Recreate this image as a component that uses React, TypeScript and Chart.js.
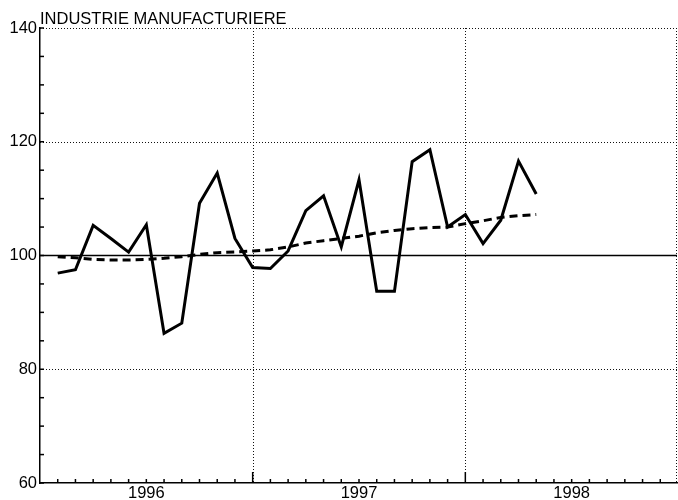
import React, { useEffect, useRef } from 'react';
import { Chart, registerables } from 'chart.js';

Chart.register(...registerables);

const chartTitle = 'INDUSTRIE MANUFACTURIERE';

const periods = [
  '1996-01', '1996-02', '1996-03', '1996-04', '1996-05', '1996-06',
  '1996-07', '1996-08', '1996-09', '1996-10', '1996-11', '1996-12',
  '1997-01', '1997-02', '1997-03', '1997-04', '1997-05', '1997-06',
  '1997-07', '1997-08', '1997-09', '1997-10', '1997-11', '1997-12',
  '1998-01', '1998-02', '1998-03', '1998-04',
];

const production = [
  96.9, 97.5, 105.3, 103.0, 100.6, 105.4, 86.3, 88.1, 109.2, 114.5, 103.0, 97.9,
  97.7, 100.8, 107.9, 110.5, 101.5, 113.3, 93.7, 93.7, 116.5, 118.6, 105.0, 107.2,
  102.1, 106.2, 116.6, 110.8,
];

const trend = [
  99.8, 99.6, 99.3, 99.2, 99.2, 99.3, 99.5, 99.8, 100.2, 100.5, 100.6, 100.8,
  101.0, 101.5, 102.2, 102.6, 103.0, 103.4, 104.0, 104.4, 104.7, 104.9, 105.0, 105.6,
  106.1, 106.7, 107.0, 107.2,
];

const yearLabels = ['1996', '1997', '1998'];
const yMin = 60;
const yMax = 140;
const yStep = 20;
const yMinorStep = 5;
const dottedLevels = [80, 120, 140];
const solidLevel = 100;

const FONT = "'Liberation Sans', Arial, sans-serif";
const FIRST_YEAR = 1996;

function monthEnd(p: string): number {
  const [yy, mm] = p.split('-').map(Number);
  return (yy - FIRST_YEAR) * 12 + mm;
}

const decorPlugin = {
  id: 'decor',
  beforeDatasetsDraw(chart: any) {
    const { ctx, chartArea: a, scales, width } = chart;
    const x = scales.x;
    const y = scales.y;
    const seg = (x1: number, y1: number, x2: number, y2: number) => {
      ctx.beginPath();
      ctx.moveTo(x1, y1);
      ctx.lineTo(x2, y2);
      ctx.stroke();
    };
    const rightEdge = Math.min(a.right, width - 1);
    ctx.save();
    ctx.strokeStyle = '#111';
    ctx.lineWidth = 1;
    ctx.setLineDash([1, 2]);
    for (const v of dottedLevels) {
      const py = Math.round(y.getPixelForValue(v)) + 0.5;
      seg(a.left, py, rightEdge, py);
    }
    const totalMonths = yearLabels.length * 12;
    for (let m = 12; m <= totalMonths; m += 12) {
      const px = Math.min(Math.round(x.getPixelForValue(m)) + 0.5, width - 1.5);
      seg(px, a.top, px, a.bottom);
    }
    ctx.setLineDash([]);
    ctx.strokeStyle = '#000';
    ctx.lineWidth = 1.5;
    const p100 = y.getPixelForValue(solidLevel);
    seg(a.left, p100, rightEdge, p100);
    for (let v = yMin; v <= yMax; v += yMinorStep) {
      const py = y.getPixelForValue(v);
      seg(a.left, py, a.left + 4, py);
    }
    for (let m = 1; m < totalMonths; m++) {
      const px = x.getPixelForValue(m);
      const len = m % 12 === 0 ? 11 : 4;
      seg(px, a.bottom, px, a.bottom - len);
    }
    ctx.restore();
  },
  afterDraw(chart: any) {
    const { ctx, chartArea: a } = chart;
    ctx.save();
    ctx.fillStyle = '#000';
    ctx.font = `16.5px ${FONT}`;
    ctx.textAlign = 'left';
    ctx.textBaseline = 'alphabetic';
    ctx.fillText(chartTitle, a.left, a.top - 4);
    ctx.restore();
  },
};

export default function App() {
  const ref = useRef<HTMLCanvasElement | null>(null);

  useEffect(() => {
    if (!ref.current) return;
    const chart = new Chart(ref.current, {
      type: 'line',
      data: {
        datasets: [
          {
            label: 'Production',
            data: periods.map((p, i) => ({ x: monthEnd(p), y: production[i] })),
            borderColor: '#000',
            borderWidth: 3,
            pointRadius: 0,
            tension: 0,
            fill: false,
          },
          {
            label: 'Tendance',
            data: periods.map((p, i) => ({ x: monthEnd(p), y: trend[i] })),
            borderColor: '#000',
            borderWidth: 3,
            borderDash: [8, 5],
            pointRadius: 0,
            tension: 0,
            fill: false,
          },
        ],
      },
      options: {
        responsive: false,
        animation: false,
        layout: { padding: { top: 28, right: -2, left: 0, bottom: 0 } },
        plugins: {
          legend: { display: false },
          tooltip: { enabled: false },
          title: { display: false },
        },
        scales: {
          x: {
            type: 'linear',
            min: 0,
            max: yearLabels.length * 12,
            grid: { display: false, drawTicks: false },
            border: { display: true, color: '#000', width: 1.5 },
            afterBuildTicks: (s: any) => {
              s.ticks = yearLabels.map((_, i) => ({ value: i * 12 + 6 }));
            },
            afterFit: (s: any) => {
              s.height = 17;
            },
            ticks: {
              autoSkip: false,
              maxRotation: 0,
              padding: 1,
              color: '#000',
              font: { family: FONT, size: 16.5 },
              callback: (v: any) => yearLabels[Math.round((Number(v) - 6) / 12)] ?? '',
            },
          },
          y: {
            type: 'linear',
            min: yMin,
            max: yMax,
            grid: { display: false, drawTicks: false },
            border: { display: true, color: '#000', width: 1.5 },
            afterFit: (s: any) => {
              s.width = 40;
            },
            ticks: {
              stepSize: yStep,
              padding: 3,
              color: '#000',
              font: { family: FONT, size: 16.5 },
            },
          },
        },
      },
      plugins: [decorPlugin],
    });
    return () => chart.destroy();
  }, []);

  return (
    <div style={{ position: 'absolute', left: 0, top: 0, width: 678, height: 500, background: '#fff' }}>
      <canvas ref={ref} width={678} height={500} style={{ width: 678, height: 500 }} />
    </div>
  );
}
